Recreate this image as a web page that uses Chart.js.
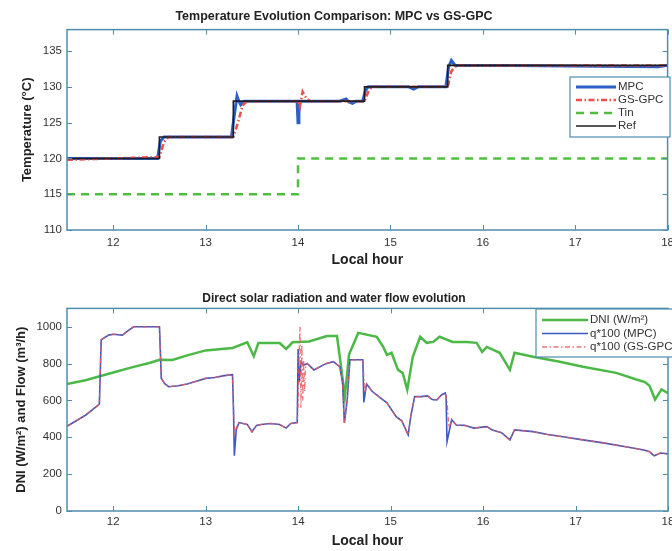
<!DOCTYPE html>
<html>
<head>
<meta charset="utf-8">
<script src="https://cdn.jsdelivr.net/npm/chart.js@4"></script>
<style>
  html, body { margin: 0; padding: 0; background: #fff; overflow: hidden; }
  .panel { position: absolute; left: 0; }
  #top { top: 0; }
  #bottom { top: 275px; }
</style>
</head>
<body>
<canvas id="top" class="panel" width="680" height="275"></canvas>
<canvas id="bottom" class="panel" width="680" height="276"></canvas>
<script>
/* ─── DATOS: temperatura ─── */
const X_TICKS = [12, 13, 14, 15, 16, 17, 18];
const TEMP_TICKS = [110, 115, 120, 125, 130, 135];
const FLOW_TICKS = [0, 200, 400, 600, 800, 1000];

const mpcHours = [11.5, 12.48, 12.51, 12.55, 13.28, 13.31, 13.34, 13.36, 13.38, 13.42, 13.99, 14.0, 14.01, 14.02, 14.04,
  14.45, 14.52, 14.55, 14.59, 14.63, 14.7, 14.73, 14.76, 15.2, 15.25, 15.3, 15.6, 15.63, 15.66, 15.7, 16.3, 17.9, 18.0];
const mpcTemp = [120, 120, 122.4, 123, 123, 126, 128.7, 128, 127.5, 128, 128, 125.0, 126.8, 128, 128,
  128, 128.3, 127.9, 127.7, 128, 128, 129.5, 130, 130, 129.7, 130, 130, 132.8, 133.7, 133, 133, 132.8, 133];

const gpcHours = [11.5, 12.5, 12.55, 12.6, 13.3, 13.35, 13.4, 13.45, 14.0, 14.02, 14.05, 14.07, 14.1, 14.13,
  14.72, 14.76, 14.8, 15.62, 15.66, 15.7, 15.73, 18.0];
const gpcTemp = [119.8, 120.2, 122.3, 123, 123, 125, 127.4, 128, 128, 127.2, 129.3, 128.8, 128.3, 128,
  128, 129.3, 130, 130, 132.2, 132.8, 133, 133];

const tinHours = [11.5, 14.0, 18.0];
const tinTemp = [115, 120, 120];

const refHours = [11.5, 12.5, 13.3, 14.72, 15.62, 18.0];
const refTemp = [120, 123, 128, 130, 133, 133];

/* ─── DATOS: radiación y caudal ─── */
const dniHours = [11.5, 11.7, 12.0, 12.2, 12.4, 12.5, 12.64, 12.8, 13.0, 13.29, 13.45, 13.52, 13.57, 13.8, 13.87, 13.94,
  14.12, 14.31, 14.42, 14.46, 14.505, 14.55, 14.65, 14.85, 14.92, 14.96, 15.01, 15.08, 15.13, 15.18, 15.24, 15.32,
  15.39, 15.46, 15.53, 15.67, 15.82, 15.93, 15.99, 16.04, 16.18, 16.29, 16.34, 16.54, 16.83, 17.08, 17.44, 17.65,
  17.75, 17.8, 17.86, 17.93, 18.0];
const dniVals = [690, 710, 752, 780, 805, 821, 820, 845, 872, 885, 916, 840, 912, 912, 880, 916,
  920, 950, 950, 800, 620, 850, 967, 946, 891, 848, 859, 766, 750, 658, 837, 946,
  913, 918, 946, 918, 918, 913, 864, 891, 859, 766, 859, 837, 810, 783, 750, 715,
  700, 680, 605, 660, 640];

const qMpcHours = [11.5, 11.6, 11.7, 11.8, 11.85, 11.87, 11.95, 12.0, 12.1, 12.15, 12.22, 12.5, 12.52, 12.56, 12.6, 12.7,
  12.8, 12.9, 13.0, 13.1, 13.2, 13.29, 13.3, 13.31, 13.33, 13.36, 13.45, 13.5, 13.55, 13.6, 13.7, 13.8, 13.87, 13.92,
  13.99, 14.0, 14.01, 14.03, 14.06, 14.1, 14.17, 14.3, 14.38, 14.45, 14.48, 14.5, 14.53, 14.56, 14.69, 14.7, 14.71,
  14.74, 14.8, 14.9, 14.96, 15.06, 15.12, 15.19, 15.22, 15.26, 15.33, 15.4, 15.45, 15.5, 15.55, 15.59, 15.6, 15.61,
  15.66, 15.71, 15.8, 15.9, 16.04, 16.1, 16.2, 16.29, 16.34, 16.54, 16.7, 16.9, 17.08, 17.3, 17.62, 17.75, 17.8,
  17.85, 17.92, 18.0];
const qMpcVals = [460, 490, 520, 560, 580, 930, 955, 960, 955, 975, 1000, 1000, 720, 690, 675, 680,
  690, 705, 720, 725, 735, 740, 560, 300, 440, 480, 470, 430, 465, 470, 475, 470, 450, 475,
  480, 880, 700, 810, 793, 800, 766, 800, 811, 784, 700, 478, 600, 821, 821, 820, 590,
  690, 650, 610, 587, 512, 490, 413, 520, 621, 621, 625, 605, 603, 630, 641, 620, 377,
  495, 467, 465, 450, 458, 440, 425, 386, 440, 431, 415, 400, 386, 370, 342, 330, 322,
  300, 315, 310];

const qGpcHours = [11.5, 11.6, 11.7, 11.8, 11.85, 11.87, 11.95, 12.0, 12.1, 12.15, 12.22, 12.5, 12.52, 12.56, 12.6, 12.7,
  12.8, 12.9, 13.0, 13.1, 13.2, 13.29, 13.31, 13.33, 13.36, 13.45, 13.5, 13.55, 13.6, 13.7, 13.8, 13.87, 13.92,
  13.99, 14.0, 14.01, 14.02, 14.03, 14.04, 14.05, 14.06, 14.07, 14.08, 14.1, 14.17, 14.3, 14.38, 14.45, 14.48, 14.5,
  14.53, 14.56, 14.69, 14.7, 14.72, 14.74, 14.8, 14.9, 14.96, 15.06, 15.12, 15.19, 15.22, 15.26, 15.33, 15.4, 15.45,
  15.5, 15.55, 15.59, 15.61, 15.63, 15.66, 15.71, 15.8, 15.9, 16.04, 16.1, 16.2, 16.29, 16.34, 16.54, 16.7, 16.9,
  17.08, 17.3, 17.62, 17.75, 17.8, 17.85, 17.92, 18.0];
const qGpcVals = [460, 490, 520, 560, 580, 930, 955, 960, 955, 975, 1000, 1000, 720, 690, 675, 680,
  690, 705, 720, 725, 735, 740, 420, 450, 480, 470, 430, 465, 470, 475, 470, 450, 475,
  480, 600, 850, 1000, 560, 900, 600, 820, 650, 780, 800, 766, 800, 811, 784, 700, 478,
  600, 821, 821, 820, 640, 690, 650, 610, 587, 512, 490, 413, 520, 621, 621, 625, 605,
  603, 630, 641, 600, 450, 495, 467, 465, 450, 458, 440, 425, 386, 440, 431, 415, 400,
  386, 370, 342, 330, 322, 300, 315, 310];

/* ─── ESTILO ─── */
const FRAME = '#4f8dad';
const TEXT = '#333';
const FONT = "'Liberation Sans', Arial, sans-serif";

const pts = (xs, ys) => xs.map((x, i) => ({ x, y: ys[i] }));

// marco tipo MATLAB con marcas hacia dentro en los cuatro lados
const framePlugin = {
  id: 'frame',
  afterDatasetsDraw(chart) {
    const { ctx, chartArea: a, scales } = chart;
    ctx.save();
    ctx.strokeStyle = FRAME;
    ctx.lineWidth = 1.5;
    ctx.strokeRect(a.left, a.top, a.width, a.height);
    ctx.beginPath();
    scales.x.ticks.forEach(t => {
      const px = Math.round(scales.x.getPixelForValue(t.value)) + 0.5;
      ctx.moveTo(px, a.bottom); ctx.lineTo(px, a.bottom - 5);
      ctx.moveTo(px, a.top); ctx.lineTo(px, a.top + 5);
    });
    scales.y.ticks.forEach(t => {
      const py = Math.round(scales.y.getPixelForValue(t.value)) + 0.5;
      ctx.moveTo(a.left, py); ctx.lineTo(a.left + 5, py);
      ctx.moveTo(a.right, py); ctx.lineTo(a.right - 5, py);
    });
    ctx.lineWidth = 1;
    ctx.stroke();
    ctx.restore();
  }
};

// leyenda con caja dentro del área del gráfico
const boxLegend = {
  id: 'boxLegend',
  afterDraw(chart, args, opts) {
    const { ctx } = chart;
    ctx.save();
    ctx.fillStyle = '#fff';
    ctx.fillRect(opts.left, opts.top, opts.width, opts.height);
    ctx.strokeStyle = FRAME;
    ctx.lineWidth = 1.2;
    ctx.strokeRect(opts.left, opts.top, opts.width, opts.height);
    ctx.font = `${opts.fontSize}px ${FONT}`;
    ctx.textBaseline = 'middle';
    chart.data.datasets.forEach((ds, i) => {
      const y = opts.top + opts.firstRow + i * opts.rowH;
      ctx.beginPath();
      ctx.strokeStyle = ds.borderColor;
      ctx.lineWidth = ds.borderWidth;
      ctx.setLineDash(ds.borderDash || []);
      ctx.moveTo(opts.left + 6, y);
      ctx.lineTo(opts.left + 6 + opts.lineLen, y);
      ctx.stroke();
      ctx.setLineDash([]);
      ctx.fillStyle = TEXT;
      ctx.fillText(ds.label, opts.left + 8 + opts.lineLen, y);
    });
    ctx.restore();
  }
};

function makeOptions(cfg) {
  return {
    responsive: false,
    animation: false,
    layout: { padding: { left: 0, right: 12, top: 0, bottom: 0 } },
    elements: { point: { radius: 0 }, line: { tension: 0 } },
    plugins: {
      legend: { display: false },
      tooltip: { enabled: false },
      title: {
        display: true,
        text: cfg.title,
        color: '#222',
        font: { family: FONT, size: cfg.titleSize, weight: 'bold' },
        padding: cfg.titlePad
      },
      boxLegend: cfg.legend
    },
    scales: {
      x: {
        type: 'linear',
        min: 11.5,
        max: 18,
        afterBuildTicks: s => { s.ticks = X_TICKS.map(v => ({ value: v })); },
        afterFit: s => { s.height = cfg.xHeight; },
        grid: { display: false, drawTicks: false },
        border: { display: false },
        ticks: { color: TEXT, padding: cfg.xTickPad, font: { family: FONT, size: 11.5 }, maxRotation: 0,
          callback: v => String(v) },
        title: {
          display: true,
          text: 'Local hour',
          color: '#222',
          font: { family: FONT, size: 14, weight: 'bold' },
          padding: { top: 0, bottom: cfg.xTitlePad }
        }
      },
      y: {
        min: cfg.yMin,
        max: cfg.yMax,
        afterBuildTicks: s => { s.ticks = cfg.yTicks.map(v => ({ value: v })); },
        afterFit: s => { s.width = 67; },
        grid: { display: false, drawTicks: false },
        border: { display: false },
        ticks: { color: TEXT, padding: 5, font: { family: FONT, size: 11.5 }, callback: v => String(v) },
        title: {
          display: true,
          text: cfg.yTitle,
          color: '#222',
          font: { family: FONT, size: 13, weight: 'bold' },
          padding: { top: cfg.yTitlePad, bottom: 0 }
        }
      }
    }
  };
}

/* ─── 1. TEMPERATURA ─── */
new Chart(document.getElementById('top'), {
  type: 'line',
  data: {
    datasets: [
      { label: 'MPC', data: pts(mpcHours, mpcTemp), borderColor: '#2d5fc4', borderWidth: 3, order: 2 },
      { label: 'GS-GPC', data: pts(gpcHours, gpcTemp), borderColor: '#e8524c', borderWidth: 2.5,
        borderDash: [6, 2.5, 1.5, 2.5], order: 1 },
      { label: 'Tin', data: pts(tinHours, tinTemp), borderColor: '#4fbf3f', borderWidth: 2.5,
        borderDash: [8, 6], stepped: 'before', order: 3 },
      { label: 'Ref', data: pts(refHours, refTemp), borderColor: '#1e1e24', borderWidth: 1.6,
        stepped: 'before', order: 0 }
    ]
  },
  options: makeOptions({
    title: 'Temperature Evolution Comparison: MPC vs GS-GPC',
    titleSize: 12.5,
    titlePad: { top: 9, bottom: 5.6 },
    xHeight: 45, xTickPad: 6, xTitlePad: 6.6,
    yMin: 110, yMax: 138, yTicks: TEMP_TICKS,
    yTitle: 'Temperature (°C)', yTitlePad: 20,
    legend: { left: 570, top: 77, width: 100, height: 60, firstRow: 10, rowH: 13, lineLen: 40, fontSize: 11.5 }
  }),
  plugins: [framePlugin, boxLegend]
});

/* ─── 2. RADIACIÓN Y CAUDAL ─── */
new Chart(document.getElementById('bottom'), {
  type: 'line',
  data: {
    datasets: [
      { label: 'DNI (W/m²)', data: pts(dniHours, dniVals), borderColor: '#4cb846', borderWidth: 2.5, order: 2 },
      { label: 'q*100 (MPC)', data: pts(qMpcHours, qMpcVals), borderColor: '#3d58c0', borderWidth: 1.6, order: 1 },
      { label: 'q*100 (GS-GPC)', data: pts(qGpcHours, qGpcVals), borderColor: 'rgba(232,90,96,0.85)', borderWidth: 1.3,
        borderDash: [5, 2.5, 1.5, 2.5], order: 0 }
    ]
  },
  options: makeOptions({
    title: 'Direct solar radiation and water flow evolution',
    titleSize: 12,
    titlePad: { top: 16, bottom: 3 },
    xHeight: 40, xTickPad: 4, xTitlePad: 1.6,
    yMin: 0, yMax: 1100, yTicks: FLOW_TICKS,
    yTitle: 'DNI (W/m²) and Flow (m³/h)', yTitlePad: 14,
    legend: { left: 536, top: 34, width: 138, height: 48, firstRow: 11, rowH: 13.5, lineLen: 46, fontSize: 11.5 }
  }),
  plugins: [framePlugin, boxLegend]
});
</script>
</body>
</html>
